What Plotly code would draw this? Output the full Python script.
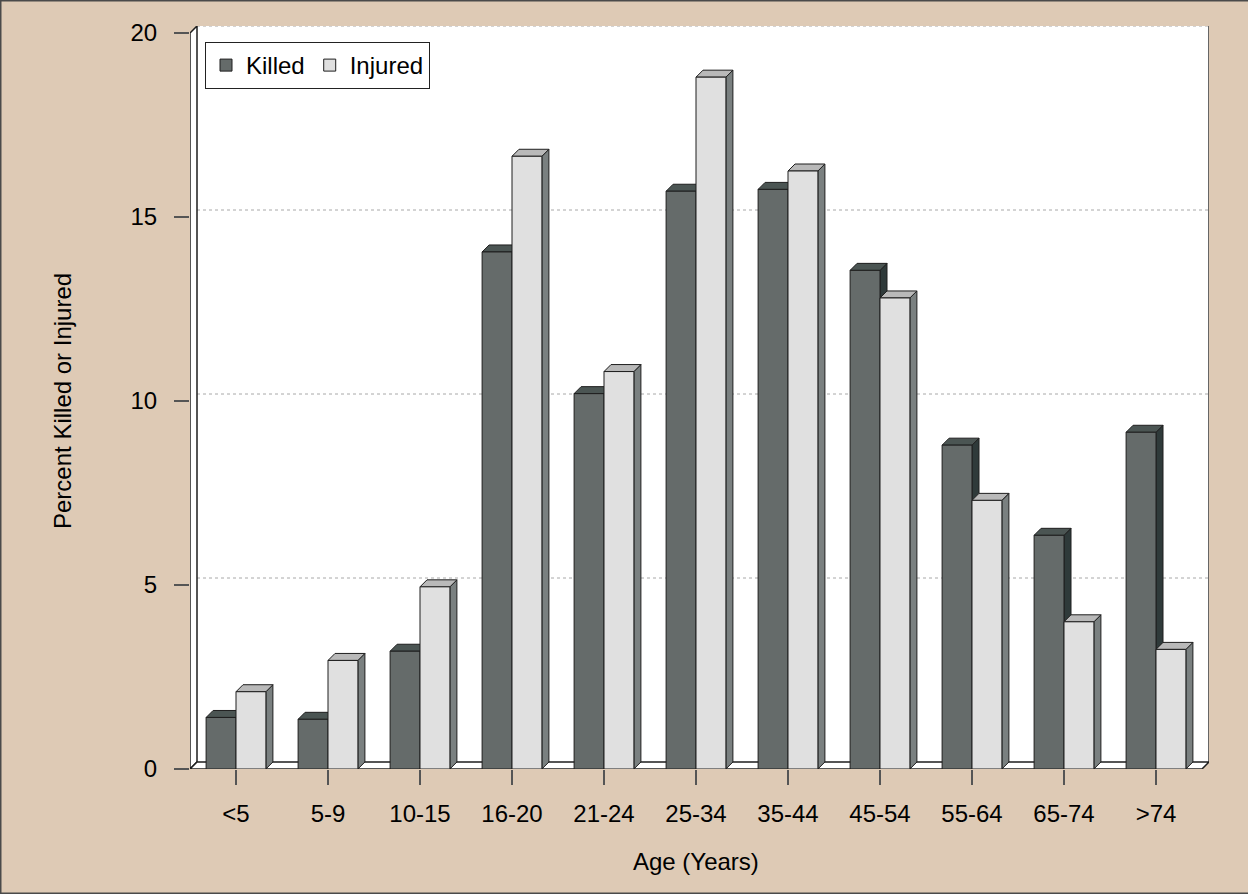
import plotly.graph_objects as go

# ---- data ----
categories = ["<5", "5-9", "10-15", "16-20", "21-24", "25-34", "35-44", "45-54", "55-64", "65-74", ">74"]
killed = [1.4, 1.35, 3.2, 14.05, 10.2, 15.7, 15.75, 13.55, 8.8, 6.35, 9.15]
injured = [2.1, 2.95, 4.95, 16.65, 10.8, 18.8, 16.25, 12.8, 7.3, 4.0, 3.25]
y_ticks = [0, 5, 10, 15, 20]

# ---- style ----
PAPER = "#DECAB5"
K_FRONT, K_TOP, K_SIDE = "#656B6A", "#4B5553", "#2F3A3A"
I_FRONT, I_TOP, I_SIDE = "#E0E0E0", "#B9B9B9", "#7A8080"
EDGE = "#1E1E1E"
FONT = "Liberation Sans, Arial, sans-serif"

W, H = 1248, 894
ML, MR, MT, MB = 190, 39, 26, 125
n = len(categories)
px_x = (W - ML - MR - 7) / n          # pixels per category unit (front plane)
ymax = 20
px_y = (H - MT - MB - 7) / ymax
DX = 7 / px_x                        # 3D depth in data units
DY = 7 / px_y
BW = 0.325                           # bar width

xs = list(range(n))
fig = go.Figure()

fig.add_trace(go.Bar(x=xs, y=killed, name="Killed", width=BW, offset=-BW,
                     marker=dict(color=K_FRONT, line=dict(color=EDGE, width=1))))
fig.add_trace(go.Bar(x=xs, y=injured, name="Injured", width=BW, offset=0,
                     marker=dict(color=I_FRONT, line=dict(color=EDGE, width=1))))

shapes = []
def poly(pts, fill, lw=1, color=EDGE, layer="below"):
    d = "M " + " L ".join(f"{x},{y}" for x, y in pts) + " Z"
    shapes.append(dict(type="path", path=d, xref="x", yref="y", fillcolor=fill,
                       line=dict(color=color, width=lw), layer=layer))

x0, x1 = -0.5, n - 0.5
# back wall
poly([(x0 + DX, DY), (x0 + DX, ymax + DY), (x1 + DX, ymax + DY), (x1 + DX, DY)], "white", lw=0)
# right edge of back wall
shapes.append(dict(type="line", xref="x", yref="y", x0=x1 + DX, x1=x1 + DX, y0=DY, y1=ymax + DY,
                   line=dict(color="#333", width=1.5), layer="below"))
# gridlines on back wall
for t in y_ticks[1:]:
    shapes.append(dict(type="line", xref="x", yref="y", x0=x0 + DX, x1=x1 + DX, y0=t + DY, y1=t + DY,
                       line=dict(color="#A8A8A8", width=1, dash="dot"), layer="below"))
# left wall
poly([(x0, 0), (x0, ymax), (x0 + DX, ymax + DY), (x0 + DX, DY)], "white", lw=1.5)
# floor
poly([(x0, 0), (x0 + DX, DY), (x1 + DX, DY), (x1, 0)], "white", lw=1.5)

# 3D faces for bars
for i in range(n):
    for v, a, top, side in ((killed[i], i - BW, K_TOP, K_SIDE), (injured[i], i, I_TOP, I_SIDE)):
        b = a + BW
        poly([(b, 0), (b, v), (b + DX, v + DY), (b + DX, DY)], side)
        poly([(a, v), (a + DX, v + DY), (b + DX, v + DY), (b, v)], top)

# legend shadow (paper coords)
pw, ph = W - ML - MR, H - MT - MB
def px2paper(px, py):
    return (px - ML) / pw, (H - MB - py) / ph
sx0, sy0 = px2paper(216, 53)
sx1, sy1 = px2paper(434, 93)
shapes.append(dict(type="rect", xref="paper", yref="paper", x0=sx0, x1=sx1, y0=sy1, y1=sy0,
                   fillcolor="#F1EFEC", line=dict(width=0), layer="below"))

# outer border (top, left, bottom)
for (a, b, c, d) in ((0, 1, 1, 1), (0, 0, 0, 1), (0, 0, 1, 0)):
    shapes.append(dict(type="line", xref="paper", yref="paper",
                       x0=-ML / pw + a * (W / pw), x1=-ML / pw + c * (W / pw),
                       y0=-MB / ph + b * (H / ph), y1=-MB / ph + d * (H / ph),
                       line=dict(color="#4A4A4A", width=3), layer="above"))

lx, ly = px2paper(205, 42)
title_x, _ = px2paper(62, 0)
_, title_y = px2paper(0, 861)

fig.update_layout(
    width=W, height=H,
    margin=dict(l=ML, r=MR, t=MT, b=MB, pad=0),
    paper_bgcolor=PAPER, plot_bgcolor="rgba(0,0,0,0)",
    barmode="overlay", showlegend=True,
    font=dict(family=FONT, size=24, color="black"),
    shapes=shapes,
    legend=dict(x=lx, y=ly, xanchor="left", yanchor="top", orientation="h",
                bgcolor="white", bordercolor="#222", borderwidth=1,
                font=dict(size=24), itemwidth=30, tracegroupgap=0,
                traceorder="normal"),
    xaxis=dict(range=[x0, x1 + DX], tickmode="array", tickvals=xs, ticktext=categories,
               showgrid=False, zeroline=False, showline=False,
               ticks="outside", ticklen=15, tickwidth=1.5, tickcolor="#555",
               tickfont=dict(size=24), ticklabelstandoff=8, fixedrange=True),
    yaxis=dict(range=[0, ymax + DY], tickmode="array", tickvals=y_ticks,
               showgrid=False, zeroline=False, showline=False,
               ticks="outside", ticklen=15, tickwidth=1.5, tickcolor="#555",
               tickfont=dict(size=24), ticklabelstandoff=12, fixedrange=True),
    annotations=[
        dict(text="Percent Killed or Injured", xref="paper", yref="y", x=title_x, y=ymax / 2,
             xanchor="center", yanchor="middle", textangle=-90, showarrow=False,
             font=dict(size=24)),
        dict(text="Age (Years)", xref="x", yref="paper", x=(n - 1) / 2, y=title_y,
             xanchor="center", yanchor="middle", showarrow=False, font=dict(size=24)),
    ],
)

fig.write_html("out.html", config={"displayModeBar": False},
               post_script="document.body.style.margin='0';document.body.style.padding='0';")
